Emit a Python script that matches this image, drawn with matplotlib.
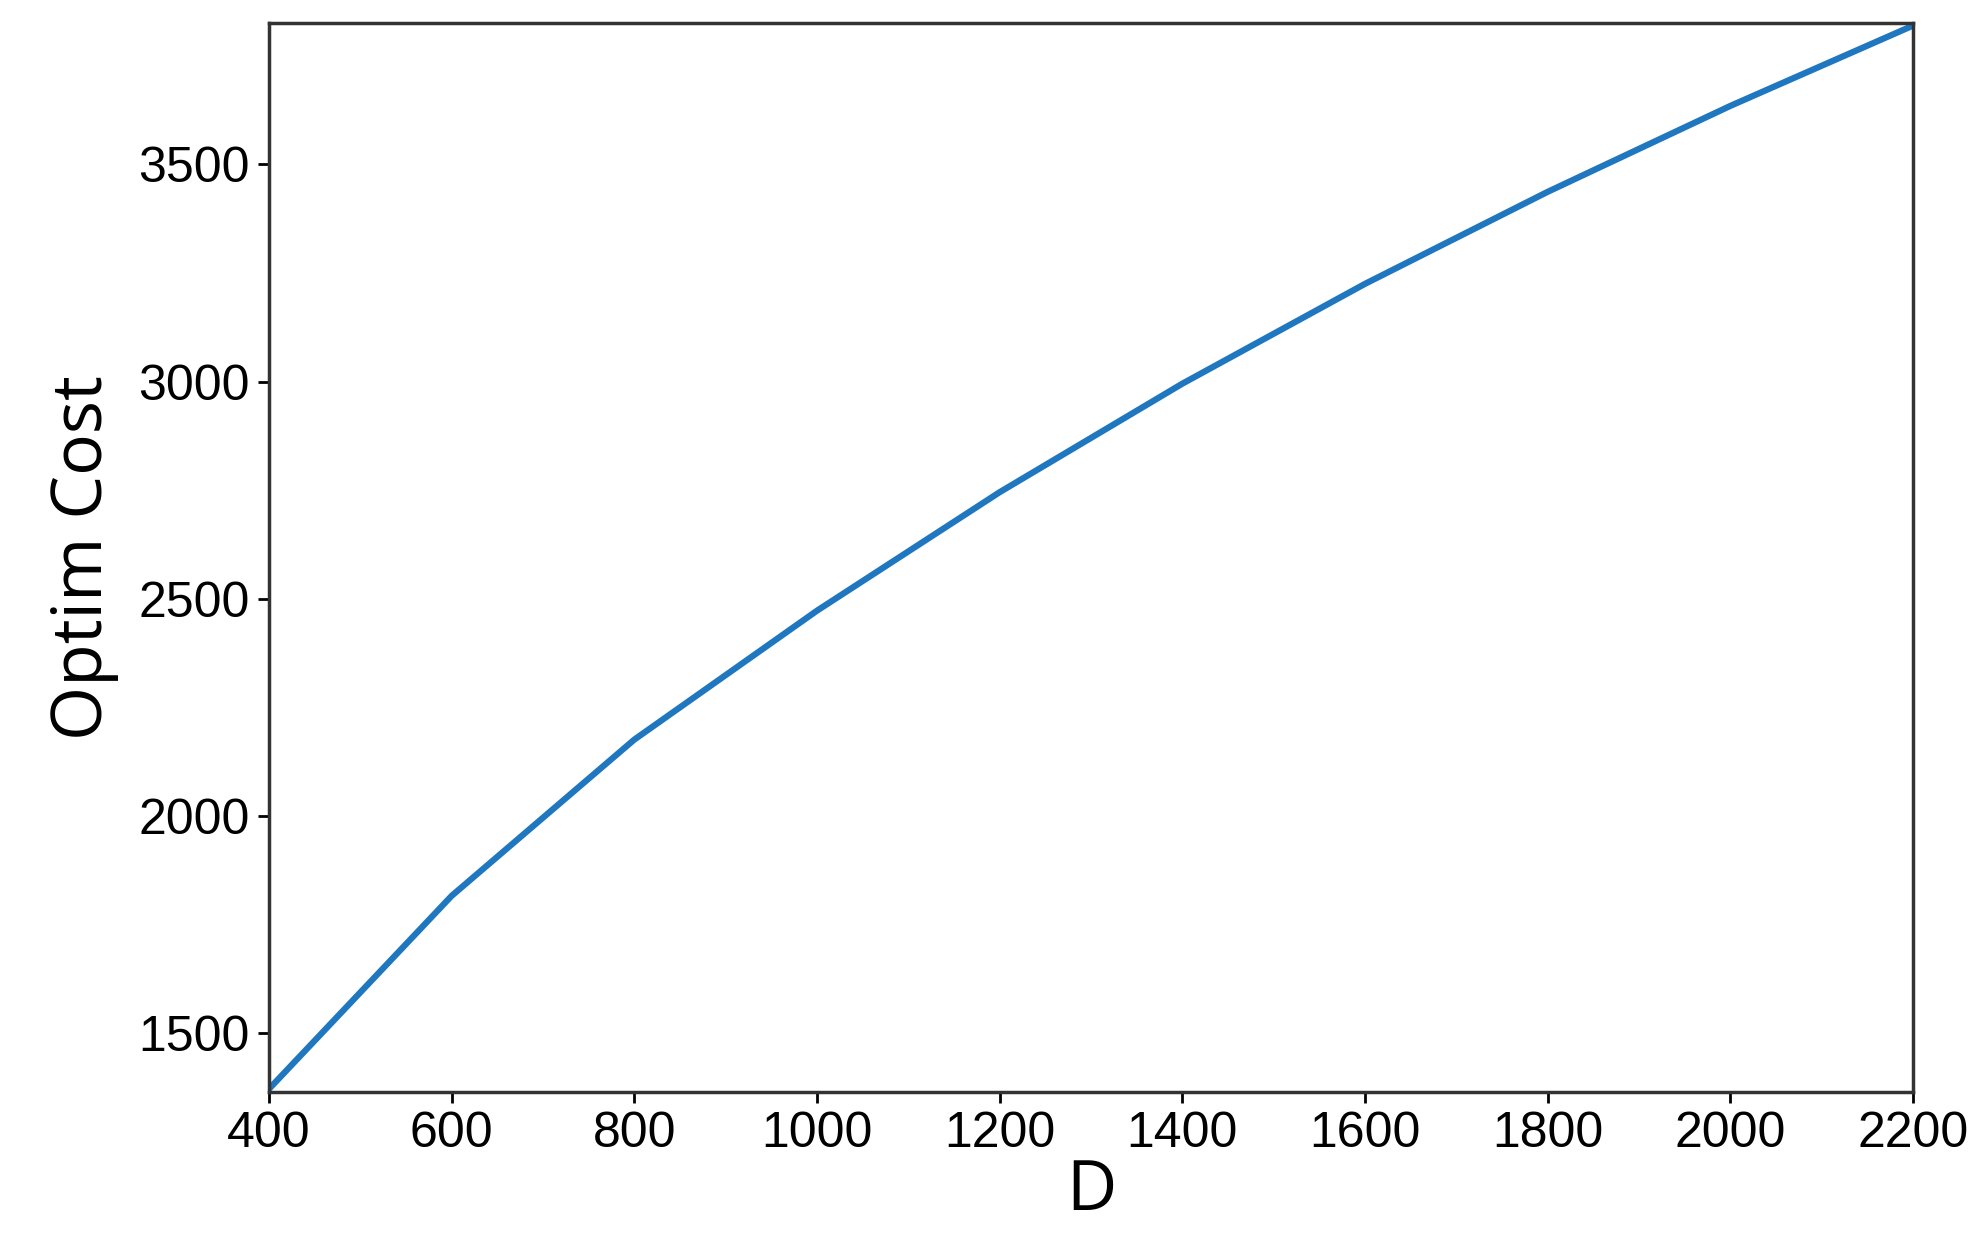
import matplotlib
matplotlib.use("Agg")
import matplotlib.pyplot as plt

D = [400, 600, 800, 1000, 1200, 1400, 1600, 1800, 2000, 2200]
cost = [1370, 1815, 2175, 2472, 2745, 2995, 3225, 3437, 3635, 3820]
xticks = [400, 600, 800, 1000, 1200, 1400, 1600, 1800, 2000, 2200]
yticks = [1500, 2000, 2500, 3000, 3500]

fig = plt.figure(figsize=(19.7, 12.6), dpi=100)
ax = fig.add_axes([269/1970, 1-1092/1260, (1913-269)/1970, (1092-23)/1260])
ax.plot(D, cost, color="#1f77c0", lw=4.5)
ax.set_xlim(400, 2200)
ax.set_ylim(1363, 3826)
ax.set_xticks(xticks)
ax.set_yticks(yticks)
for lab in ax.get_xticklabels() + ax.get_yticklabels():
    lab.set_family("Liberation Sans")
    lab.set_fontsize(36)
ax.tick_params(length=8, width=2, pad=6)
for s in ax.spines.values():
    s.set_linewidth(2.5)
    s.set_color("#333333")
ax.set_xlabel("D", fontsize=50, family="Open Sans", labelpad=0)
ax.set_ylabel("Optim Cost", fontsize=50, family="Open Sans", labelpad=14)
fig.savefig("out.png", dpi=100)
